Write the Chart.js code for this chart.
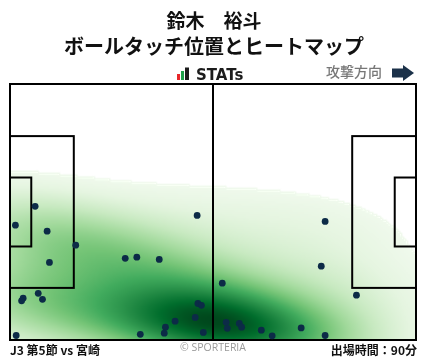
<!DOCTYPE html>
<html>
<head>
<meta charset="utf-8">
<script src="https://cdn.jsdelivr.net/npm/chart.js@4.4.1/dist/chart.umd.min.js"></script>
<style>
  html, body { margin: 0; padding: 0; background: #ffffff; }
  canvas { display: block; }
</style>
</head>
<body>
<canvas id="c" width="428" height="359"></canvas>
<script>
// ---- Data (pitch metres: x 0..105 toward attacking goal, y 0..68 from top touchline) ----
const TOUCH_X = [6.5, 1.4, 9.6, 17.0, 10.2, 29.8, 32.8, 7.3, 3.4, 3.0, 8.4, 1.6,
                 48.4, 38.6, 54.9, 48.6, 49.5, 47.9, 42.7, 40.2, 39.9, 33.7, 50.0,
                 55.9, 56.2, 59.3, 59.9, 65.0, 67.8, 75.3, 81.5, 81.5, 80.5, 89.6];
const TOUCH_Y = [32.5, 37.5, 39.1, 42.8, 47.4, 46.3, 46.0, 55.6, 56.9, 57.6, 57.2, 66.8,
                 34.9, 46.6, 52.9, 58.3, 58.8, 62.0, 63.0, 64.6, 66.2, 66.5, 66.0,
                 63.3, 64.9, 63.6, 64.6, 65.4, 66.9, 64.8, 66.8, 36.5, 48.4, 56.1];

const PLAYER_NAME = '鈴木　裕斗';
const CHART_TITLE = 'ボールタッチ位置とヒートマップ';
const MATCH_LABEL = 'J3 第5節 vs 宮崎';
const MINUTES_LABEL = '出場時間：90分';
const ATTACK_LABEL = '攻撃方向';

// Pitch geometry (metres)
const PITCH_LEN = 105, PITCH_WID = 68;
const PEN_DEPTH = 16.5, PEN_HALF = 20.16;
const GOAL_DEPTH = 5.5, GOAL_HALF = 9.16;

// KDE settings
const BW_ADJUST = 1.3;
const THRESH = 0.02;

// ---- Gaussian KDE (scipy-style, Scott's rule, full covariance) ----
function makeKde(xs, ys) {
  const n = xs.length;
  let mx = 0, my = 0;
  for (let i = 0; i < n; i++) { mx += xs[i]; my += ys[i]; }
  mx /= n; my /= n;
  let sxx = 0, syy = 0, sxy = 0;
  for (let i = 0; i < n; i++) {
    const dx = xs[i] - mx, dy = ys[i] - my;
    sxx += dx * dx; syy += dy * dy; sxy += dx * dy;
  }
  sxx /= (n - 1); syy /= (n - 1); sxy /= (n - 1);
  const f2 = Math.pow(Math.pow(n, -1 / 6) * BW_ADJUST, 2);
  const cxx = sxx * f2, cyy = syy * f2, cxy = sxy * f2;
  const det = cxx * cyy - cxy * cxy;
  const ixx = cyy / det, iyy = cxx / det, ixy = -cxy / det;
  const fn = (x, y) => {
    let s = 0;
    for (let i = 0; i < n; i++) {
      const dx = x - xs[i], dy = y - ys[i];
      s += Math.exp(-0.5 * (dx * dx * ixx + 2 * dx * dy * ixy + dy * dy * iyy));
    }
    return s;
  };
  return fn;
}

const GREENS = [
  [0.0, [247, 252, 245]], [0.125, [229, 245, 224]], [0.25, [199, 233, 192]],
  [0.375, [161, 217, 155]], [0.5, [116, 196, 118]], [0.625, [65, 171, 93]],
  [0.75, [35, 139, 69]], [0.875, [0, 109, 44]], [1.0, [0, 68, 27]]
];
function greens(t) {
  t = Math.max(0, Math.min(1, t));
  for (let i = 1; i < GREENS.length; i++) {
    if (t <= GREENS[i][0]) {
      const [t0, c0] = GREENS[i - 1], [t1, c1] = GREENS[i];
      const u = (t - t0) / (t1 - t0);
      return [0, 1, 2].map(k => c0[k] + (c1[k] - c0[k]) * u);
    }
  }
  return GREENS[GREENS.length - 1][1];
}

const heatPlugin = {
  id: 'heat',
  beforeDatasetsDraw(chart) {
    const { ctx, scales: { x: xs, y: ys } } = chart;
    const kde = makeKde(TOUCH_X, TOUCH_Y);
    // density grid clipped to the pitch
    const W = 210, H = 136;
    const grid = new Float64Array(W * H);
    for (let j = 0; j < H; j++) for (let i = 0; i < W; i++) {
      grid[j * W + i] = kde((i + 0.5) / W * PITCH_LEN, (j + 0.5) / H * PITCH_WID);
    }
    const vals = Array.from(grid).sort((a, b) => b - a);
    const total = vals.reduce((a, b) => a + b, 0);
    let cum = 0, dThr = vals[vals.length - 1];
    for (let k = 0; k < vals.length; k++) {
      cum += vals[k];
      if (cum / total >= 1 - THRESH) { dThr = vals[k]; break; }
    }
    const dMax = vals[0];
    const off = document.createElement('canvas');
    off.width = W; off.height = H;
    const octx = off.getContext('2d');
    const img = octx.createImageData(W, H);
    for (let k = 0; k < W * H; k++) {
      const d = grid[k], idx = k * 4;
      if (d < dThr) { img.data[idx + 3] = 0; continue; }
      const c = greens((d - dThr) / (dMax - dThr) * 0.94 + 0.05);
      img.data[idx] = c[0]; img.data[idx + 1] = c[1]; img.data[idx + 2] = c[2]; img.data[idx + 3] = 255;
    }
    octx.putImageData(img, 0, 0);
    const x0 = xs.getPixelForValue(0), x1 = xs.getPixelForValue(PITCH_LEN);
    const y0 = ys.getPixelForValue(0), y1 = ys.getPixelForValue(PITCH_WID);
    ctx.save();
    ctx.imageSmoothingEnabled = true;
    ctx.imageSmoothingQuality = 'high';
    ctx.drawImage(off, x0, y0, x1 - x0, y1 - y0);
    ctx.restore();
  }
};

const pitchPlugin = {
  id: 'pitch',
  beforeDatasetsDraw(chart) {
    const { ctx, scales: { x: xs, y: ys } } = chart;
    const X = v => xs.getPixelForValue(v), Y = v => ys.getPixelForValue(v);
    const mid = PITCH_WID / 2;
    const rects = [
      [0, 0, PITCH_LEN, PITCH_WID],
      [0, mid - PEN_HALF, PEN_DEPTH, mid + PEN_HALF],
      [0, mid - GOAL_HALF, GOAL_DEPTH, mid + GOAL_HALF],
      [PITCH_LEN - PEN_DEPTH, mid - PEN_HALF, PITCH_LEN, mid + PEN_HALF],
      [PITCH_LEN - GOAL_DEPTH, mid - GOAL_HALF, PITCH_LEN, mid + GOAL_HALF]
    ];
    ctx.save();
    ctx.strokeStyle = '#000000';
    ctx.lineWidth = 2;
    rects.forEach(r => {
      ctx.strokeRect(X(r[0]), Y(r[1]), X(r[2]) - X(r[0]), Y(r[3]) - Y(r[1]));
    });
    ctx.beginPath();
    ctx.moveTo(X(PITCH_LEN / 2), Y(0));
    ctx.lineTo(X(PITCH_LEN / 2), Y(PITCH_WID));
    ctx.stroke();
    ctx.restore();
  }
};

const textPlugin = {
  id: 'texts',
  afterDraw(chart) {
    const { ctx } = chart;
    const W = chart.width;
    const jp = '"Noto Sans CJK JP", "Noto Sans", sans-serif';
    ctx.save();
    ctx.fillStyle = '#111111';
    ctx.textAlign = 'center';
    ctx.textBaseline = 'middle';
    ctx.font = 'bold 19px ' + jp;
    ctx.fillText(PLAYER_NAME, W / 2, 21);
    ctx.font = 'bold 20px ' + jp;
    ctx.fillText(CHART_TITLE, W / 2, 46);

    // STATs logo
    ctx.fillStyle = '#e8262a'; ctx.fillRect(177, 74, 3, 6);
    ctx.fillStyle = '#1fa04a'; ctx.fillRect(181, 71, 3, 9);
    ctx.fillStyle = '#1c1c1c'; ctx.fillRect(185, 67.5, 4, 12.5);
    ctx.fillStyle = '#1c1c1c';
    ctx.textAlign = 'left';
    ctx.textBaseline = 'alphabetic';
    ctx.font = 'bold 15px "DejaVu Sans", sans-serif';
    ctx.fillText('STATs', 196, 80);

    // attack direction
    ctx.fillStyle = '#777777';
    ctx.font = '500 14px ' + jp;
    ctx.textBaseline = 'middle';
    ctx.fillText(ATTACK_LABEL, 326, 72);
    ctx.fillStyle = '#1b3149';
    ctx.beginPath();
    ctx.moveTo(392, 68.5); ctx.lineTo(403, 68.5); ctx.lineTo(403, 65);
    ctx.lineTo(414, 73); ctx.lineTo(403, 81); ctx.lineTo(403, 77.5);
    ctx.lineTo(392, 77.5); ctx.closePath(); ctx.fill();

    // footer
    ctx.fillStyle = '#111111';
    ctx.font = 'bold 12px ' + jp;
    ctx.textAlign = 'left';
    ctx.fillText(MATCH_LABEL, 10, 350);
    ctx.textAlign = 'right';
    ctx.fillText(MINUTES_LABEL, 417, 350);
    ctx.fillStyle = '#9a9a9a';
    ctx.font = '10.5px "Open Sans", "Noto Sans", sans-serif';
    ctx.textAlign = 'center';
    ctx.fillText('© SPORTERIA', 213, 348);
    ctx.restore();
  }
};

new Chart(document.getElementById('c').getContext('2d'), {
  type: 'scatter',
  data: {
    datasets: [{
      data: TOUCH_X.map((x, i) => ({ x: x, y: TOUCH_Y[i] })),
      backgroundColor: '#0c2b47',
      borderWidth: 0,
      pointRadius: 3.4,
      clip: false
    }]
  },
  options: {
    responsive: false,
    animation: false,
    layout: { padding: { left: 10, right: 12, top: 84, bottom: 19 } },
    scales: {
      x: { type: 'linear', min: 0, max: PITCH_LEN, display: false },
      y: { type: 'linear', min: 0, max: PITCH_WID, reverse: true, display: false }
    },
    plugins: { legend: { display: false }, tooltip: { enabled: false }, title: { display: false } }
  },
  plugins: [heatPlugin, pitchPlugin, textPlugin]
});
</script>
</body>
</html>
